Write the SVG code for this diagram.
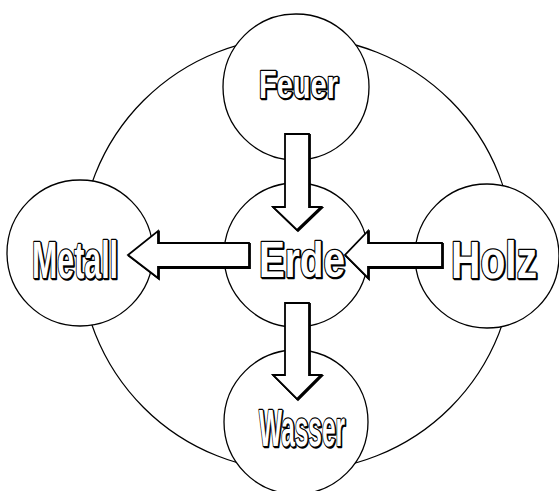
<svg xmlns="http://www.w3.org/2000/svg" width="559" height="491" viewBox="0 0 559 491">
<style>
.ring{fill:none;stroke:#000;stroke-width:1.3}
.node{fill:#fff;stroke:#000;stroke-width:1.3}
.lbl{font-family:"Liberation Sans Narrow","Liberation Sans",Arial,sans-serif;font-weight:bold;fill:#fff;stroke:#000;stroke-width:2.6;paint-order:stroke;text-anchor:start;stroke-linejoin:round}
.sh{font-family:"Liberation Sans Narrow","Liberation Sans",Arial,sans-serif;font-weight:bold;fill:#000;stroke:#000;stroke-width:2.6;stroke-linejoin:round}
.arr{fill:#fff;stroke:#000;stroke-width:1.8;stroke-linejoin:miter}
.arrsh{fill:#000;stroke:#000;stroke-width:1.8}
</style>
<rect width="559" height="491" fill="#fff"/>
<g id="ring"><circle class="ring" cx="297" cy="254" r="217"/></g>
<g id="feuer">
<circle class="node" cx="296" cy="87" r="73"/>
<text class="sh" x="260" y="99" font-size="38" textLength="79" lengthAdjust="spacingAndGlyphs">Feuer</text>
<text class="lbl" x="259" y="98" font-size="38" textLength="79" lengthAdjust="spacingAndGlyphs">Feuer</text>
</g>
<g id="metall">
<circle class="node" cx="80" cy="253" r="73"/>
<text class="sh" x="33" y="279" font-size="51" textLength="86" lengthAdjust="spacingAndGlyphs">Metall</text>
<text class="lbl" x="32" y="278" font-size="51" textLength="86" lengthAdjust="spacingAndGlyphs">Metall</text>
</g>
<g id="erde">
<circle class="node" cx="296" cy="255" r="72"/>
<text class="sh" x="260" y="278" font-size="50" textLength="86" lengthAdjust="spacingAndGlyphs">Erde</text>
<text class="lbl" x="259" y="277" font-size="50" textLength="86" lengthAdjust="spacingAndGlyphs">Erde</text>
</g>
<g id="holz">
<circle class="node" cx="487" cy="256" r="72"/>
<text class="sh" x="452" y="279" font-size="51" textLength="86" lengthAdjust="spacingAndGlyphs">Holz</text>
<text class="lbl" x="451" y="278" font-size="51" textLength="86" lengthAdjust="spacingAndGlyphs">Holz</text>
</g>
<g id="wasser">
<circle class="node" cx="296" cy="422" r="72"/>
<text class="sh" x="260" y="447" font-size="52" textLength="86" lengthAdjust="spacingAndGlyphs">Wasser</text>
<text class="lbl" x="259" y="446" font-size="52" textLength="86" lengthAdjust="spacingAndGlyphs">Wasser</text>
</g>
<g id="connectors">
<polygon class="arrsh" transform="translate(1,1)" points="285,134 309,134 309,207 321,207 297,230 273,207 285,207"/>
<polygon class="arr" points="285,134 309,134 309,207 321,207 297,230 273,207 285,207"/>
<polygon class="arrsh" transform="translate(1,1)" points="285,303 309,303 309,375 321,375 297,399 273,375 285,375"/>
<polygon class="arr" points="285,303 309,303 309,375 321,375 297,399 273,375 285,375"/>
<polygon class="arrsh" transform="translate(1,1)" points="249,243 249,267 158,267 158,278 128,255 158,231 158,243"/>
<polygon class="arr" points="249,243 249,267 158,267 158,278 128,255 158,231 158,243"/>
<polygon class="arrsh" transform="translate(1,1)" points="442,243 442,267 368,267 368,278 345,255 368,231 368,243"/>
<polygon class="arr" points="442,243 442,267 368,267 368,278 345,255 368,231 368,243"/>
</g>
</svg>
